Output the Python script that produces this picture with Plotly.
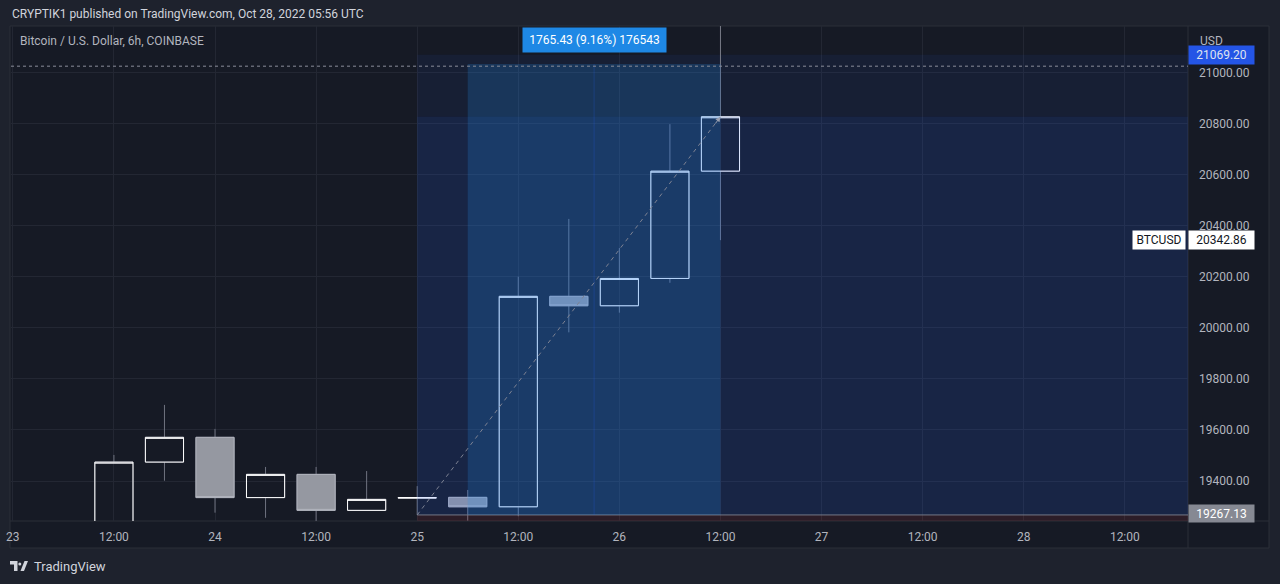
import plotly.graph_objects as go

# ---------------- data ----------------
dates = ["2022-10-23 12:00", "2022-10-23 18:00", "2022-10-24 00:00", "2022-10-24 06:00",
         "2022-10-24 12:00", "2022-10-24 18:00", "2022-10-25 00:00", "2022-10-25 06:00",
         "2022-10-25 12:00", "2022-10-25 18:00", "2022-10-26 00:00", "2022-10-26 06:00",
         "2022-10-26 12:00"]
opens  = [19150, 19474, 19571, 19335, 19426, 19285, 19333, 19336, 19299, 20123, 20086, 20193, 20613]
closes = [19474, 19571, 19335, 19426, 19285, 19328, 19335, 19299, 20123, 20086, 20193, 20613, 20826]
highs  = [19502, 19698, 19604, 19455, 19455, 19439, 19380, 19365, 20200, 20426, 20312, 20797, 21032.56]
lows   = [19120, 19401, 19276, 19256, 19240, 19285, 19267.13, 19245, 19262, 19982, 20059, 20176, 20342.86]

tick_dates = ["2022-10-23 00:00", "2022-10-23 12:00", "2022-10-24 00:00", "2022-10-24 12:00",
              "2022-10-25 00:00", "2022-10-25 12:00", "2022-10-26 00:00", "2022-10-26 12:00",
              "2022-10-27 00:00", "2022-10-27 12:00", "2022-10-28 00:00", "2022-10-28 12:00"]
tick_text = ["23", "12:00", "24", "12:00", "25", "12:00", "26", "12:00", "27", "12:00", "28", "12:00"]
price_ticks = [19400, 19600, 19800, 20000, 20200, 20400, 20600, 20800, 21000]

# drawing values
range_low = 19267.13
range_high = 21032.56
band_top = 21069.20
entry_price = 20826
last_price = 20342.86
high_dotted = 21024
measure_text = "1765.43 (9.16%) 176543"
range_start = "2022-10-25 06:00"
range_end = "2022-10-26 12:00"
range_mid = "2022-10-25 21:00"
tool_start = "2022-10-25 00:00"
x_range = ["2022-10-22 23:47", "2022-10-28 19:30"]
y_range = [19243.4, 21181.3]

# ---------------- styling helpers ----------------
FONT = "Roboto"
W, H = 1280, 584
L, R, T, B = 11, 1188, 26, 521


def PX(p):
    return (p - L) / (R - L)


def PY(p):
    return (B - p) / (B - T)


def path(points):
    s = "M " + " L ".join(f"{PX(x):.5f},{PY(y):.5f}" for x, y in points) + " Z"
    return s


fig = go.Figure()

# wicks (gray)
fig.add_trace(go.Candlestick(
    x=dates, open=opens, close=closes, high=highs, low=lows,
    increasing=dict(line=dict(color="#6f7380", width=1), fillcolor="rgba(0,0,0,0)"),
    decreasing=dict(line=dict(color="#6f7380", width=1), fillcolor="rgba(0,0,0,0)"),
    showlegend=False, hoverinfo="skip"))

body_hi = [max(o, c) for o, c in zip(opens, closes)]
body_lo = [min(o, c) for o, c in zip(opens, closes)]
fig.add_trace(go.Candlestick(
    x=dates, open=opens, close=closes, high=body_hi, low=body_lo,
    increasing=dict(line=dict(color="#ffffff", width=1), fillcolor="rgba(0,0,0,0)"),
    decreasing=dict(line=dict(color="#b2b5be", width=1), fillcolor="#9598a1"),
    showlegend=False))

shapes = []
# outer chart frame
shapes.append(dict(type="rect", xref="paper", yref="paper", x0=PX(10), x1=PX(1269), y0=PY(548), y1=PY(26),
                   line=dict(color="#2a2e39", width=1), fillcolor="#161a25", layer="below"))
shapes.append(dict(type="line", xref="paper", yref="paper", x0=PX(10), x1=PX(1269), y0=PY(521), y1=PY(521),
                   line=dict(color="#2a2e39", width=1), layer="below"))
shapes.append(dict(type="line", xref="paper", yref="paper", x0=PX(1188), x1=PX(1188), y0=PY(548), y1=PY(26),
                   line=dict(color="#2a2e39", width=1), layer="below"))

# price range bands
shapes.append(dict(type="rect", xref="x", yref="y", x0=tool_start, x1="2022-10-30", y0=entry_price, y1=band_top,
                   line=dict(width=0), fillcolor="rgba(41,98,255,0.07)", layer="above"))
shapes.append(dict(type="rect", xref="x", yref="y", x0=tool_start, x1="2022-10-30", y0=range_low, y1=entry_price,
                   line=dict(width=0), fillcolor="rgba(41,98,255,0.15)", layer="above"))
shapes.append(dict(type="rect", xref="x", yref="y", x0=tool_start, x1="2022-10-30", y0=19000, y1=range_low,
                   line=dict(width=0), fillcolor="rgba(242,54,69,0.10)", layer="above"))
shapes.append(dict(type="line", xref="x", yref="y", x0=tool_start, x1="2022-10-30", y0=range_low, y1=range_low,
                   line=dict(color="#747887", width=1), layer="above"))
# date range highlight
shapes.append(dict(type="rect", xref="x", yref="y", x0=range_start, x1=range_end, y0=range_low, y1=range_high,
                   line=dict(width=0), fillcolor="rgba(33,150,243,0.20)", layer="above"))
shapes.append(dict(type="line", xref="x", yref="y", x0=range_mid, x1=range_mid, y0=range_low, y1=range_high,
                   line=dict(color="rgba(41,98,255,0.22)", width=1), layer="above"))
# dotted high line
shapes.append(dict(type="line", xref="paper", yref="y", x0=0, x1=1, y0=high_dotted, y1=high_dotted,
                   line=dict(color="#8a8e99", width=1, dash="dot"), layer="above"))
# vertical gray line above last candle
shapes.append(dict(type="line", xref="x", yref="y", x0=range_end, x1=range_end, y0=range_high, y1=y_range[1],
                   line=dict(color="#787b86", width=1), layer="above"))
# dashed trend arrow
shapes.append(dict(type="line", xref="x", yref="y", x0=tool_start, x1=range_end, y0=range_low, y1=entry_price,
                   line=dict(color="#7d8293", width=1, dash="4px,4px"), layer="above"))

# TradingView logo
shapes.append(dict(type="path", xref="paper", yref="paper",
                   path=path([(10, 561), (17.5, 561), (17.5, 571), (14, 571), (14, 564.5), (10, 564.5)]),
                   fillcolor="#d1d4dc", line=dict(width=0)))
shapes.append(dict(type="circle", xref="paper", yref="paper", x0=PX(18.3), x1=PX(21.3), y0=PY(565.5), y1=PY(562.5),
                   fillcolor="#d1d4dc", line=dict(width=0)))
shapes.append(dict(type="path", xref="paper", yref="paper",
                   path=path([(20.5, 571), (24.5, 561), (28, 561), (24, 571)]),
                   fillcolor="#d1d4dc", line=dict(width=0)))

ann = []
ann.append(dict(text="CRYPTIK1 published on TradingView.com, Oct 28, 2022 05:56 UTC", xref="paper", yref="paper",
                x=PX(10), y=PY(14), xanchor="left", yanchor="middle", showarrow=False,
                font=dict(family=FONT, size=12, color="#d1d4dc")))
ann.append(dict(text="Bitcoin / U.S. Dollar, 6h, COINBASE", xref="paper", yref="paper",
                x=PX(18), y=PY(41), xanchor="left", yanchor="middle", showarrow=False,
                font=dict(family=FONT, size=12, color="#b2b5be")))
ann.append(dict(text="USD", xref="paper", yref="paper", x=PX(1198), y=PY(41), xanchor="left", yanchor="middle",
                showarrow=False, font=dict(family=FONT, size=12, color="#b2b5be")))
ann.append(dict(text=measure_text, xref="x", yref="paper", x=range_mid, y=PY(40), xanchor="center", yanchor="middle",
                showarrow=False, bgcolor="#1e88e5", borderpad=4, width=135, height=16,
                font=dict(family=FONT, size=12, color="#ffffff")))
ann.append(dict(text=f"{band_top:.2f}", xref="paper", yref="y", x=PX(1188), y=band_top, xanchor="left",
                yanchor="middle", showarrow=False, bgcolor="#2455e6", borderpad=3, width=59, height=12,
                font=dict(family=FONT, size=12, color="#dfe3f0")))
ann.append(dict(text=f"{last_price:.2f}", xref="paper", yref="y", x=PX(1188), y=last_price, xanchor="left",
                yanchor="middle", showarrow=False, bgcolor="#ffffff", borderpad=3, width=59, height=12,
                font=dict(family=FONT, size=12, color="#131722")))
ann.append(dict(text="BTCUSD", xref="paper", yref="y", x=PX(1186), y=last_price, xanchor="right",
                yanchor="middle", showarrow=False, bgcolor="#ffffff", borderpad=3, width=46, height=12,
                font=dict(family=FONT, size=12, color="#131722")))
ann.append(dict(text=f"{range_low:.2f}", xref="paper", yref="paper", x=PX(1188), y=PY(513), xanchor="left",
                yanchor="middle", showarrow=False, bgcolor="#868993", borderpad=3, width=59, height=11,
                font=dict(family=FONT, size=12, color="#ffffff")))
ann.append(dict(text="TradingView", xref="paper", yref="paper", x=PX(32), y=PY(566), xanchor="left",
                yanchor="middle", showarrow=False, font=dict(family=FONT, size=13, color="#d1d4dc")))
# arrow head of trend line
ann.append(dict(text="", xref="x", yref="y", x=range_end, y=entry_price, ax=-6, ay=8,
                showarrow=True, arrowhead=2, arrowsize=1, arrowwidth=1, arrowcolor="#9aa0b0"))

fig.update_layout(
    width=W, height=H, autosize=False,
    margin=dict(l=L, r=W - R, t=T, b=H - B, pad=0, autoexpand=False),
    paper_bgcolor="#1e222d", plot_bgcolor="#161a25",
    shapes=shapes, annotations=ann, showlegend=False,
    boxgap=0.245, boxgroupgap=0, boxmode="overlay",
    hovermode=False,
    xaxis=dict(type="date", range=x_range, tickvals=tick_dates, ticktext=tick_text, automargin=False,
               showgrid=True, gridcolor="#232733", gridwidth=1, zeroline=False, showline=False,
               ticks="", ticklabelstandoff=7, rangeslider=dict(visible=False),
               tickfont=dict(family=FONT, size=12, color="#b2b5be"), fixedrange=True),
    yaxis=dict(side="right", range=y_range, tickvals=price_ticks, automargin=False,
               ticktext=[f"{v:.2f}" for v in price_ticks],
               showgrid=True, gridcolor="#232733", gridwidth=1, zeroline=False, showline=False,
               ticks="", ticklabelstandoff=10,
               tickfont=dict(family=FONT, size=12, color="#b2b5be"), fixedrange=True),
)

fig.write_html("out.html", config={"displayModeBar": False},
               post_script="document.body.style.margin='0px';document.body.style.padding='0px';")
